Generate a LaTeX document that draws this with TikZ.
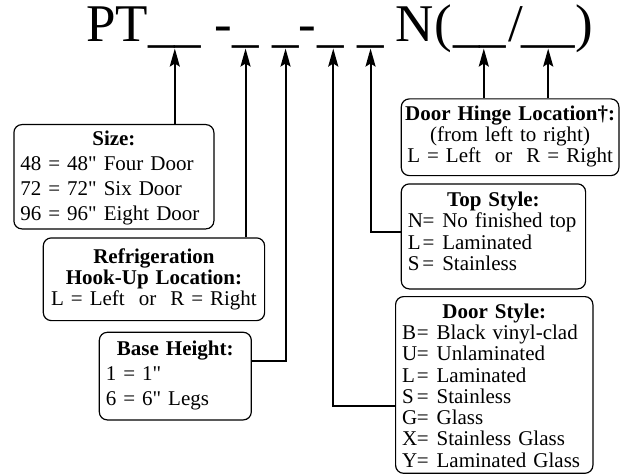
\documentclass[tikz,border=0pt]{standalone}
\usepackage{fontspec}
\setmainfont{Liberation Serif}[Ligatures=TeXOff]
\usepackage{tikz}
\usetikzlibrary{arrows.meta}
\tikzstyle{arrow} = [line width=2pt,-{Stealth[length=18pt,width=10pt,inset=3pt]}]
\newcommand{\keyrow}[2]{\makebox[0.7em][l]{#1}=\hspace{0.38em}#2}
\newcommand{\keytitle}[1]{\hfill\textbf{#1}\hfill\null}

\begin{document}
\begin{tikzpicture}[x=1pt, y=-1pt,
            code/.style={inner sep=0pt, outer sep=0pt, anchor=base west, font=\fontsize{53}{53}\selectfont},
            key/.style={draw, line width=1.2pt, rounded corners=8pt, anchor=north west,
                inner xsep=6.5pt, inner ysep=0pt, align=left, font=\fontsize{21}{21.3}\selectfont}
        ]
            \useasboundingbox (0,0) rectangle (621,476);

            % part number
            \foreach \x/\t/\n in {86/PT/pt, 148.3/\_\_/b1, 214.7/-/h1, 232.3/\_/b2, 272.3/\_/b3,
                    298.7/-/h2, 317.3/\_/b4, 357.3/\_/b5, 395/N/nn, 434.2/(/lp, 453.3/\_\_/b6,
                    508.5/{/}/sl, 521.7/\_\_/b7, 575/)/rp}
                \node[code] (\n) at (\x,41.7) {\t};

            % keys
            \node[key, text width=187pt, text height=21pt, text depth=83.3pt,
                font=\fontsize{21}{25}\selectfont] (size) at (13.3,124)
                {\keytitle{Size:}\\ 48 = 48" Four Door\\ 72 = 72" Six Door\\ 96 = 96" Eight Door};
            \node[key, align=center, text width=208.3pt, text height=26pt, text depth=56.7pt,
                font=\fontsize{21}{21}\selectfont] (refrig) at (42.7,237.3)
                {\textbf{Refrigeration}\\ \textbf{Hook-Up Location:}\\ L = Left~ or~ R = Right};
            \node[key, text width=139pt, text height=23.3pt, text depth=64.3pt,
                font=\fontsize{21}{25}\selectfont] (base) at (98.7,331.7)
                {\keytitle{Base Height:}\\ 1 = 1"\\ 6 = 6" Legs};
            \node[key, align=center, inner xsep=3.8pt, text width=210pt, text height=21.7pt,
                text depth=55pt, font=\fontsize{21}{20.8}\selectfont] (hinge) at (400.7,98.3)
                {\textbf{Door Hinge Location\textdagger:}\\ (from left to right)\\ L = Left~ or~ R = Right};
            \node[key, text width=171.3pt, text height=22.4pt, text depth=82.6pt,
                font=\fontsize{21}{21.5}\selectfont] (top) at (400.7,183.3)
                {\keytitle{Top Style:}\\ \keyrow{N}{No finished top}\\ \keyrow{L}{Laminated}\\
                \keyrow{S}{Stainless}};
            \node[key, text width=184.3pt, text height=21.5pt, text depth=155.2pt] (door) at (395,296)
                {\keytitle{Door Style:}\\ \keyrow{B}{Black vinyl-clad}\\ \keyrow{U}{Unlaminated}\\
                \keyrow{L}{Laminated}\\ \keyrow{S}{Stainless}\\ \keyrow{G}{Glass}\\
                \keyrow{X}{Stainless Glass}\\ \keyrow{Y}{Laminated Glass}};

            % pointers
            \draw[arrow] (size.north -| b1.south) -- (b1.south);
            \draw[arrow] (refrig.north -| b2.south) -- (b2.south);
            \draw[arrow] ([yshift=15.5pt]base.east) -| (b3.south);
            \draw[arrow] ([yshift=-20.6pt]door.west) -| ([xshift=2.7pt]b4.south);
            \draw[arrow] ([yshift=4pt]top.west) -| (b5.south);
            \draw[arrow] (hinge.north -| b6.south) ++(4,0) -- ([xshift=4pt]b6.south);
            \draw[arrow] (hinge.north -| b7.south) -- (b7.south);
        \end{tikzpicture}
\end{document}
